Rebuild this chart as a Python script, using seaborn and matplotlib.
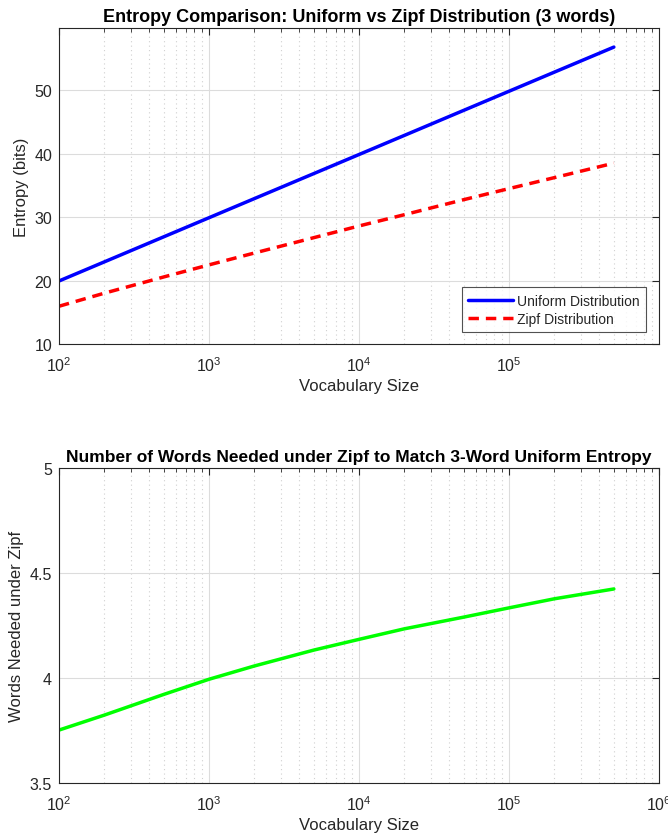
import numpy as np
import pandas as pd
import seaborn as sns
import matplotlib.pyplot as plt
from matplotlib.ticker import LogLocator, NullFormatter

# values
vocab_size = [1e2, 2e2, 5e2, 1e3, 2e3, 5e3, 1e4, 2e4, 5e4, 1e5, 2e5, 5e5]
uniform_entropy = [19.93, 22.93, 26.90, 29.90, 32.90, 36.86, 39.86, 42.86, 46.83, 49.83, 52.83, 56.79]
zipf_entropy = [15.95, 18.00, 20.57, 22.47, 24.33, 26.76, 28.60, 30.37, 32.75, 34.49, 36.21, 38.50]
words_needed = [3.752, 3.823, 3.922, 3.994, 4.057, 4.133, 4.184, 4.234, 4.290, 4.334, 4.377, 4.424]

sns.set_theme(style="white")
plt.rcParams['font.family'] = ['Liberation Sans', 'DejaVu Sans']
plt.rcParams['mathtext.fontset'] = 'custom'
plt.rcParams['mathtext.rm'] = 'Liberation Sans'
plt.rcParams['mathtext.it'] = 'Liberation Sans:italic'
plt.rcParams['mathtext.bf'] = 'Liberation Sans:bold'
plt.rcParams['xtick.direction'] = 'in'
plt.rcParams['ytick.direction'] = 'in'

df = pd.DataFrame({'N': vocab_size, 'Uniform Distribution': uniform_entropy,
                   'Zipf Distribution': zipf_entropy, 'Words': words_needed})

fig = plt.figure(figsize=(6.68, 8.37), dpi=100)
ax1 = fig.add_axes([59/668, 1-345/837, 600/668, 316/837])
ax2 = fig.add_axes([59/668, 1-784/837, 600/668, 315/837])


def matlab_style(ax):
    ax.set_xscale('log')
    ax.xaxis.set_major_locator(LogLocator(base=10, numticks=10))
    ax.xaxis.set_minor_locator(LogLocator(base=10, subs=np.arange(2, 10), numticks=20))
    ax.xaxis.set_minor_formatter(NullFormatter())
    ax.grid(True, which='major', color='#dcdcdc', linewidth=0.8, linestyle='-')
    ax.grid(True, which='minor', axis='x', color='#d0d0d0', linewidth=0.8, linestyle=(0, (1, 3)))
    ax.set_axisbelow(True)
    for s in ax.spines.values():
        s.set_color('#262626')
        s.set_linewidth(0.8)
    ax.tick_params(which='both', top=True, right=True, colors='#262626',
                   labelcolor='#262626', labelsize=11.5)
    ax.tick_params(which='major', length=5, width=0.8)
    ax.tick_params(which='minor', length=3, width=0.6)
    ax.tick_params(axis='x', which='major', pad=8)
    ax.tick_params(axis='y', which='major', pad=5)


sns.lineplot(data=df, x='N', y='Uniform Distribution', ax=ax1, color=(0, 0, 1),
             linewidth=2.5, label='Uniform Distribution')
sns.lineplot(data=df, x='N', y='Zipf Distribution', ax=ax1, color=(1, 0, 0),
             linewidth=2.5, linestyle=(0, (3, 2)), label='Zipf Distribution')
matlab_style(ax1)
ax1.set_xlim(1e2, 1e6)
ax1.set_ylim(10, 59.8)
ax1.set_yticks([10, 20, 30, 40, 50])
ax1.set_xticks([1e2, 1e3, 1e4, 1e5])
ax1.set_xlabel('Vocabulary Size', fontsize=12, color='#262626', labelpad=3)
ax1.set_ylabel('Entropy (bits)', fontsize=12, color='#262626')
ax1.set_title('Entropy Comparison: Uniform vs Zipf Distribution (3 words)',
              fontsize=13, fontweight='bold', pad=5, color='black')
leg = ax1.legend(loc='lower right', fontsize=10, frameon=True, fancybox=False,
                 handlelength=3.2, borderpad=0.45, labelspacing=0.3,
                 handletextpad=0.3, borderaxespad=0, bbox_to_anchor=(0.978, 0.038))
leg.get_frame().set_edgecolor('#262626')
leg.get_frame().set_linewidth(0.8)

sns.lineplot(data=df, x='N', y='Words', ax=ax2, color=(0, 1, 0), linewidth=2.5)
matlab_style(ax2)
ax2.set_xlim(1e2, 1e6)
ax2.set_ylim(3.5, 5)
ax2.set_yticks([3.5, 4, 4.5, 5])
ax2.set_yticklabels(['3.5', '4', '4.5', '5'])
ax2.set_xlabel('Vocabulary Size', fontsize=12, color='#262626', labelpad=3)
ax2.set_ylabel('Words Needed under Zipf', fontsize=12, color='#262626')
ax2.set_title('Number of Words Needed under Zipf to Match 3-Word Uniform Entropy',
              fontsize=12.5, fontweight='bold', pad=5, color='black')

fig.savefig('out.png', dpi=100)
